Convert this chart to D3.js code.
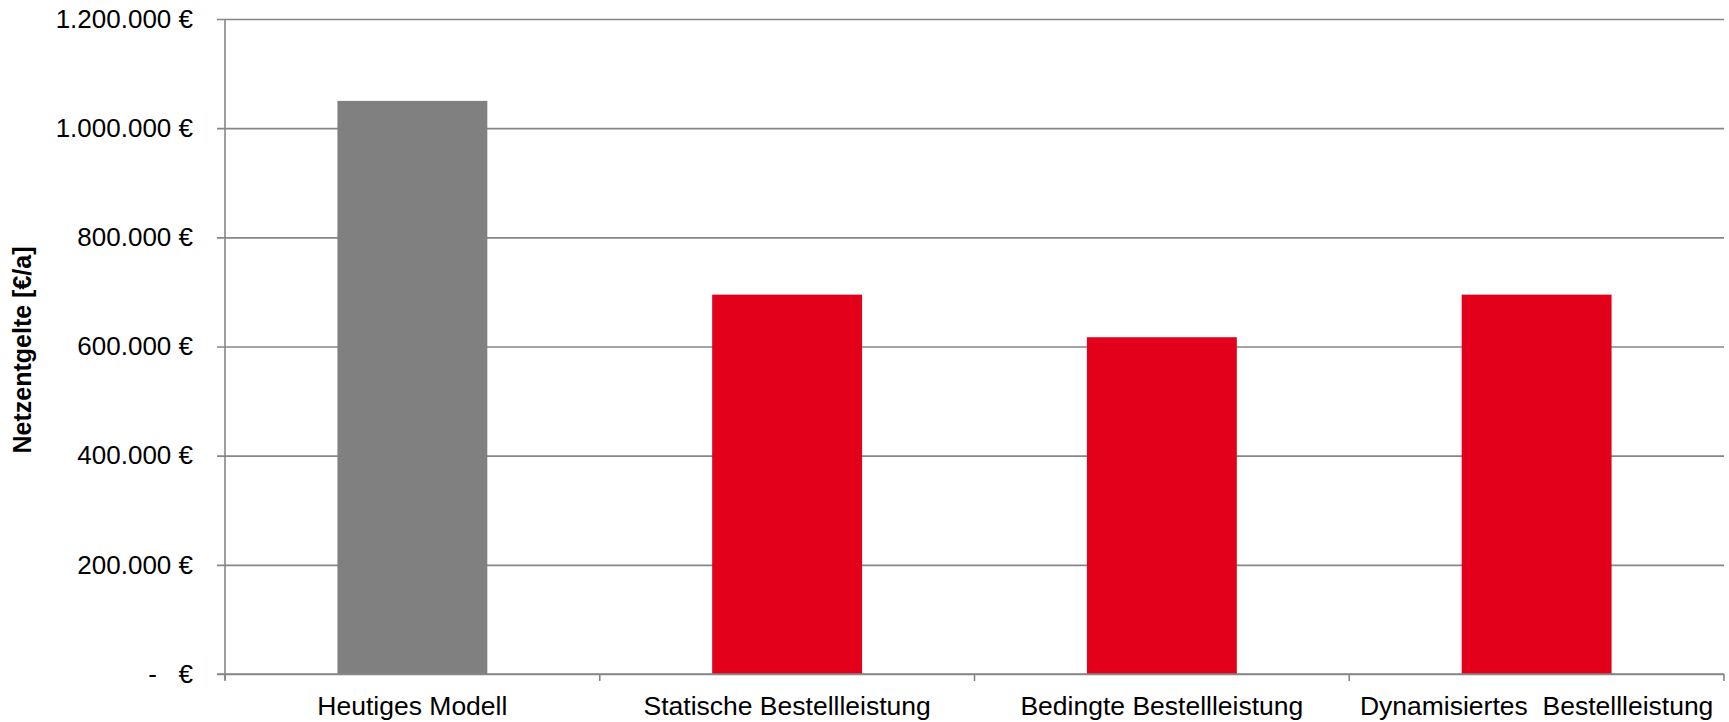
<!DOCTYPE html>
<html>
<head>
<meta charset="utf-8">
<script src="https://cdn.jsdelivr.net/npm/d3@7"></script>
<style>
  html, body { margin: 0; padding: 0; background: #fff; }
  svg { display: block; }
  text { font-family: "Liberation Sans", Arial, sans-serif; fill: #000; }
</style>
</head>
<body>
<svg id="chart" width="1729" height="722"></svg>
<script>
// Netzentgelte per tariff model (€ per year)
const categories = [
  "Heutiges Modell",
  "Statische Bestellleistung",
  "Bedingte Bestellleistung",
  "Dynamisiertes  Bestellleistung"
];
const values = [1050000, 695000, 617000, 695000];
const barColors = ["#808080", "#E2001A", "#E2001A", "#E2001A"];
const yTicks = [0, 200000, 400000, 600000, 800000, 1000000, 1200000];
const yTitle = "Netzentgelte [€/a]";

const W = 1729, H = 722;
const margin = { top: 19, right: 5, bottom: 48, left: 225 };
const svg = d3.select("#chart");
const gridColor = "#868686";

const y = d3.scaleLinear()
  .domain([0, 1200000])
  .range([H - margin.bottom, margin.top]);

// category slots (for the axis) and bars (40% of each slot, centred)
const xSlot = d3.scaleBand()
  .domain(categories)
  .range([margin.left, W - margin.right])
  .padding(0);
const xBar = d3.scaleBand()
  .domain(categories)
  .range([margin.left, W - margin.right])
  .paddingInner(0.6)
  .paddingOuter(0.3);

const fmt = v => v === 0 ? "-   €" : d3.format(",")(v).replace(/,/g, ".") + " €";

// horizontal gridlines with short outward ticks
const yAxis = d3.axisLeft(y)
  .tickValues(yTicks)
  .tickFormat(fmt)
  .tickSize(-(W - margin.left - margin.right))
  .tickSizeOuter(0)
  .tickPadding(32);

const gy = svg.append("g")
  .attr("transform", `translate(${margin.left},0)`)
  .call(yAxis);
gy.select(".domain").remove();
gy.selectAll(".tick line")
  .attr("x1", -8)
  .attr("stroke", gridColor)
  .attr("stroke-width", 1.6);
gy.selectAll(".tick text")
  .style("font-size", "26px")
  .style("white-space", "pre")
  .attr("fill", "#000");

// bars
svg.append("g")
  .selectAll("rect")
  .data(values)
  .join("rect")
  .attr("x", (d, i) => xBar(categories[i]))
  .attr("width", xBar.bandwidth())
  .attr("y", d => y(d))
  .attr("height", d => y(0) - y(d))
  .attr("fill", (d, i) => barColors[i]);

// vertical value axis line
svg.append("line")
  .attr("x1", margin.left).attr("x2", margin.left)
  .attr("y1", y(1200000)).attr("y2", y(0) + 6)
  .attr("stroke", gridColor)
  .attr("stroke-width", 1.6);

// category axis: baseline, boundary ticks and labels
const baseY = y(0);
svg.append("line")
  .attr("x1", margin.left - 8).attr("x2", W - margin.right)
  .attr("y1", baseY).attr("y2", baseY)
  .attr("stroke", gridColor)
  .attr("stroke-width", 1.6);

const bounds = categories.map(c => xSlot(c)).concat([xSlot.range()[1]]);
svg.append("g")
  .selectAll("line")
  .data(bounds)
  .join("line")
  .attr("x1", d => d).attr("x2", d => d)
  .attr("y1", baseY).attr("y2", baseY + 7)
  .attr("stroke", gridColor)
  .attr("stroke-width", 1.6);

svg.append("g")
  .selectAll("text")
  .data(categories)
  .join("text")
  .attr("x", d => xSlot(d) + xSlot.bandwidth() / 2)
  .attr("y", baseY + 41)
  .attr("text-anchor", "middle")
  .style("font-size", "26.5px")
  .style("white-space", "pre")
  .text(d => d);

// value axis title
svg.append("text")
  .attr("transform", `translate(31,350) rotate(-90)`)
  .attr("text-anchor", "middle")
  .style("font-size", "25px")
  .style("font-weight", "bold")
  .text(yTitle);
</script>
</body>
</html>
